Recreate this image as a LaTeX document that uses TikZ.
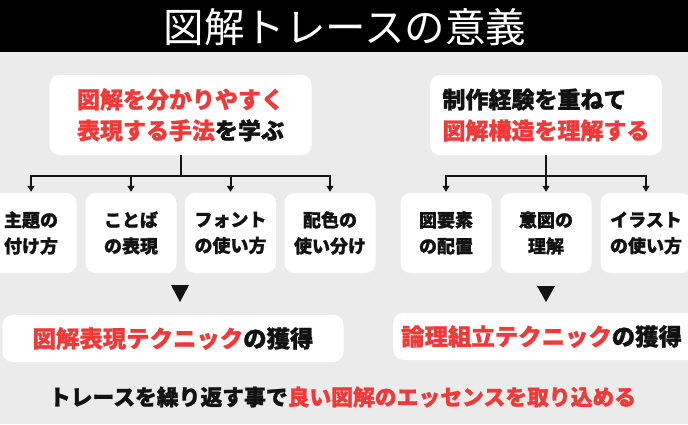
\documentclass[tikz,border=0pt]{standalone}
\usepackage{fontspec}
\setmainfont{Noto Sans CJK JP}[BoldFeatures={FakeBold=1.2}]
\usetikzlibrary{arrows.meta}
\definecolor{bg}{RGB}{235,235,235}
\definecolor{hl}{RGB}{240,58,58}
\definecolor{ink}{RGB}{18,18,18}
\begin{document}
\begin{tikzpicture}[x=1pt,y=-1pt,
  card/.style={fill=white, rounded corners=10pt, inner sep=0pt, align=center, text=ink},
  topcard/.style={card, minimum height=80pt, align=left, font=\bfseries\fontsize{23}{31}\selectfont},
  smallcard/.style={card, minimum width=91pt, minimum height=80pt, font=\bfseries\fontsize{18}{26}\selectfont},
  resultcard/.style={card, minimum height=47pt, font=\bfseries\fontsize{23.4}{28}\selectfont},
  link/.style={draw=ink, line width=2pt, -{Triangle[length=6pt,width=7pt]}, shorten >=1pt},
  marker/.style={fill=ink}
]
\clip (0,0) rectangle (688,424);
\useasboundingbox (0,0) rectangle (688,424);
\fill[bg] (0,0) rectangle (688,424);
\fill[black] (0,0) rectangle (688,52);
\node[text=white, font=\fontsize{40.5}{48}\selectfont] (title) at (345,27) {図解トレースの意義};

% top cards
\node[topcard, minimum width=262pt] (tl) at (180.5,115) {\textcolor{hl}{図解を分かりやすく}\\\textcolor{hl}{表現する手法}を学ぶ};
\node[topcard, minimum width=232pt] (tr) at (546,115) {制作経験を重ねて\\\textcolor{hl}{図解構造を理解する}};

% small cards
\node[smallcard] (b1) at (31,233) {主題の\\付け方};
\node[smallcard] (b2) at (131,233) {ことば\\の表現};
\node[smallcard] (b3) at (230.5,233) {フォント\\の使い方};
\node[smallcard] (b4) at (330,233) {配色の\\使い分け};
\node[smallcard] (b5) at (446,233) {図要素\\の配置};
\node[smallcard] (b6) at (546,233) {意図の\\理解};
\node[smallcard] (b7) at (646,233) {イラスト\\の使い方};

% connectors
\foreach \b in {b1,b2,b3,b4}{\draw[link] (tl.south) -- ++(0,21) -| (\b.north);}
\foreach \b in {b5,b6,b7}{\draw[link] (tr.south) -- ++(0,21) -| (\b.north);}

% down markers
\fill[marker] (171,285) -- (189,285) -- (180,302) -- cycle;
\fill[marker] (537,286) -- (555,286) -- (546,302) -- cycle;

% result cards
\node[resultcard, minimum width=341pt] (rl) at (173,338.5) {\textcolor{hl}{図解表現テクニック}の獲得};
\node[resultcard, anchor=west, text width=292pt, align=left, inner xsep=8pt] (rr) at (393,336.5) {\textcolor{hl}{論理組立テクニック}の獲得};

% bottom line
\node[text=ink, font=\bfseries\fontsize{21.8}{26}\selectfont] (msg) at (342.5,397) {トレースを繰り返す事で\textcolor{hl}{良い図解のエッセンスを取り込める}};
\end{tikzpicture}
\end{document}
